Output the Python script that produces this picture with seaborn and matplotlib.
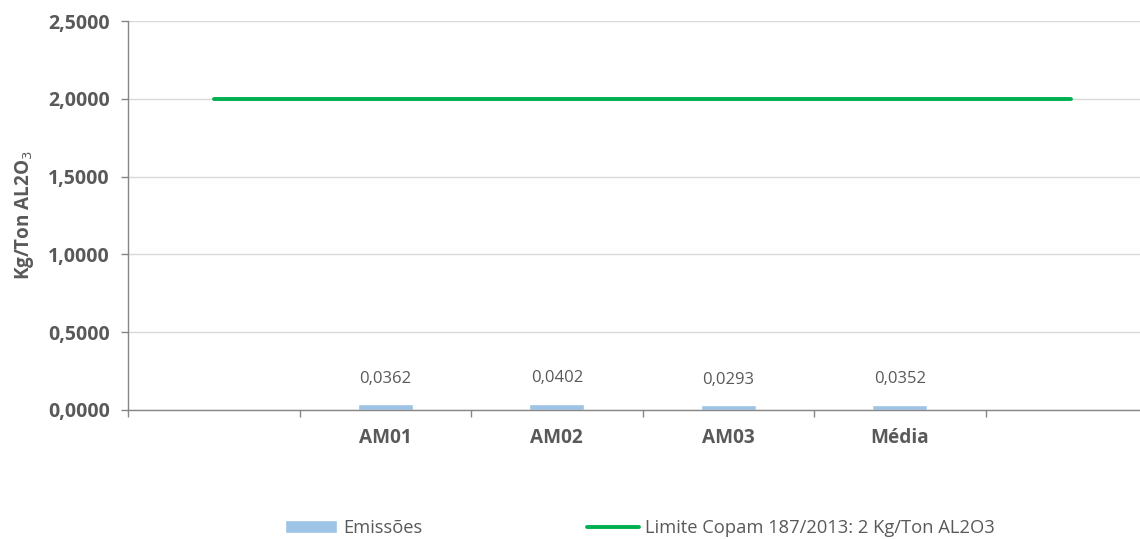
import numpy as np
import pandas as pd
import matplotlib
matplotlib.use("Agg")
import matplotlib.pyplot as plt
import seaborn as sns

# ── data ────────────────────────────────────────────────────────────────────
categories = ["", "AM01", "AM02", "AM03", "Média", " "]
emissoes = [np.nan, 0.0362, 0.0402, 0.0293, 0.0352, np.nan]
limite = [2.0, 2.0, 2.0, 2.0, 2.0, 2.0]
y_ticks = [0.0, 0.5, 1.0, 1.5, 2.0, 2.5]

bar_label = "Emissões"
line_label = "Limite Copam 187/2013: 2 Kg/Ton AL2O3"

df = pd.DataFrame({"amostra": categories, "valor": emissoes})

# ── style ───────────────────────────────────────────────────────────────────
sns.set_theme(style="white")
plt.rcParams["font.family"] = ["Open Sans", "DejaVu Sans"]
grey = "#595959"
axis_grey = "#868686"

fig = plt.figure(figsize=(11.4, 5.39), dpi=100)
ax = fig.add_axes([128 / 1140, 129 / 539, 1029 / 1140, 389 / 539])

sns.barplot(data=df, x="amostra", y="valor", order=categories,
            color="#9dc3e6", saturation=1, width=0.32, ax=ax,
            label=bar_label, errorbar=None)
if ax.get_legend() is not None:
    ax.get_legend().remove()

pos = np.arange(len(categories))
line, = ax.plot(pos, limite, color="#00b050", lw=2.8, solid_capstyle="round",
                label=line_label, zorder=3)

# value labels
for i, v in enumerate(emissoes):
    if not np.isnan(v):
        ax.text(i, v + 0.165, f"{v:.4f}".replace(".", ","), ha="center",
                va="center", fontsize=12, color=grey)

ax.set_xlim(-0.5, len(categories) - 0.5)
ax.set_ylim(0, 2.5)
ax.set_yticks(y_ticks)
ax.set_yticklabels([f"{t:.4f}".replace(".", ",") for t in y_ticks],
                   fontsize=14, fontweight="bold", color=grey)
ax.set_xticks(np.arange(len(categories) + 1) - 0.5, minor=True)
ax.set_xticks(pos)
ax.set_xticklabels(categories, fontsize=13.7, fontweight="bold", color=grey)
ax.tick_params(axis="x", which="major", length=0, pad=13)
ax.tick_params(axis="x", which="minor", length=5, width=1, color=axis_grey,
               bottom=True, direction="out")
ax.tick_params(axis="y", length=5, width=1, color=axis_grey, left=True,
               direction="out", pad=8)

ax.yaxis.grid(True, color="#d9d9d9", lw=1)
ax.set_axisbelow(True)
for s in ["top", "right"]:
    ax.spines[s].set_visible(False)
for s in ["left", "bottom"]:
    ax.spines[s].set_color(axis_grey)
    ax.spines[s].set_linewidth(1)

ax.set_xlabel("")
ax.set_ylabel("Kg/Ton AL2O$_3$", fontsize=13.6, fontweight="bold", color=grey,
              labelpad=9)

bar_handle = ax.patches[1]
fig.legend([bar_handle, line], [bar_label, line_label], loc="center left",
           bbox_to_anchor=(268 / 1140, 1 - 528 / 539), ncol=2,
           frameon=False, fontsize=13.2, handlelength=2.85,
           handleheight=0.65, handletextpad=0.33, columnspacing=9.0,
           labelcolor=grey)

fig.savefig("out.png", dpi=100)
plt.close(fig)
